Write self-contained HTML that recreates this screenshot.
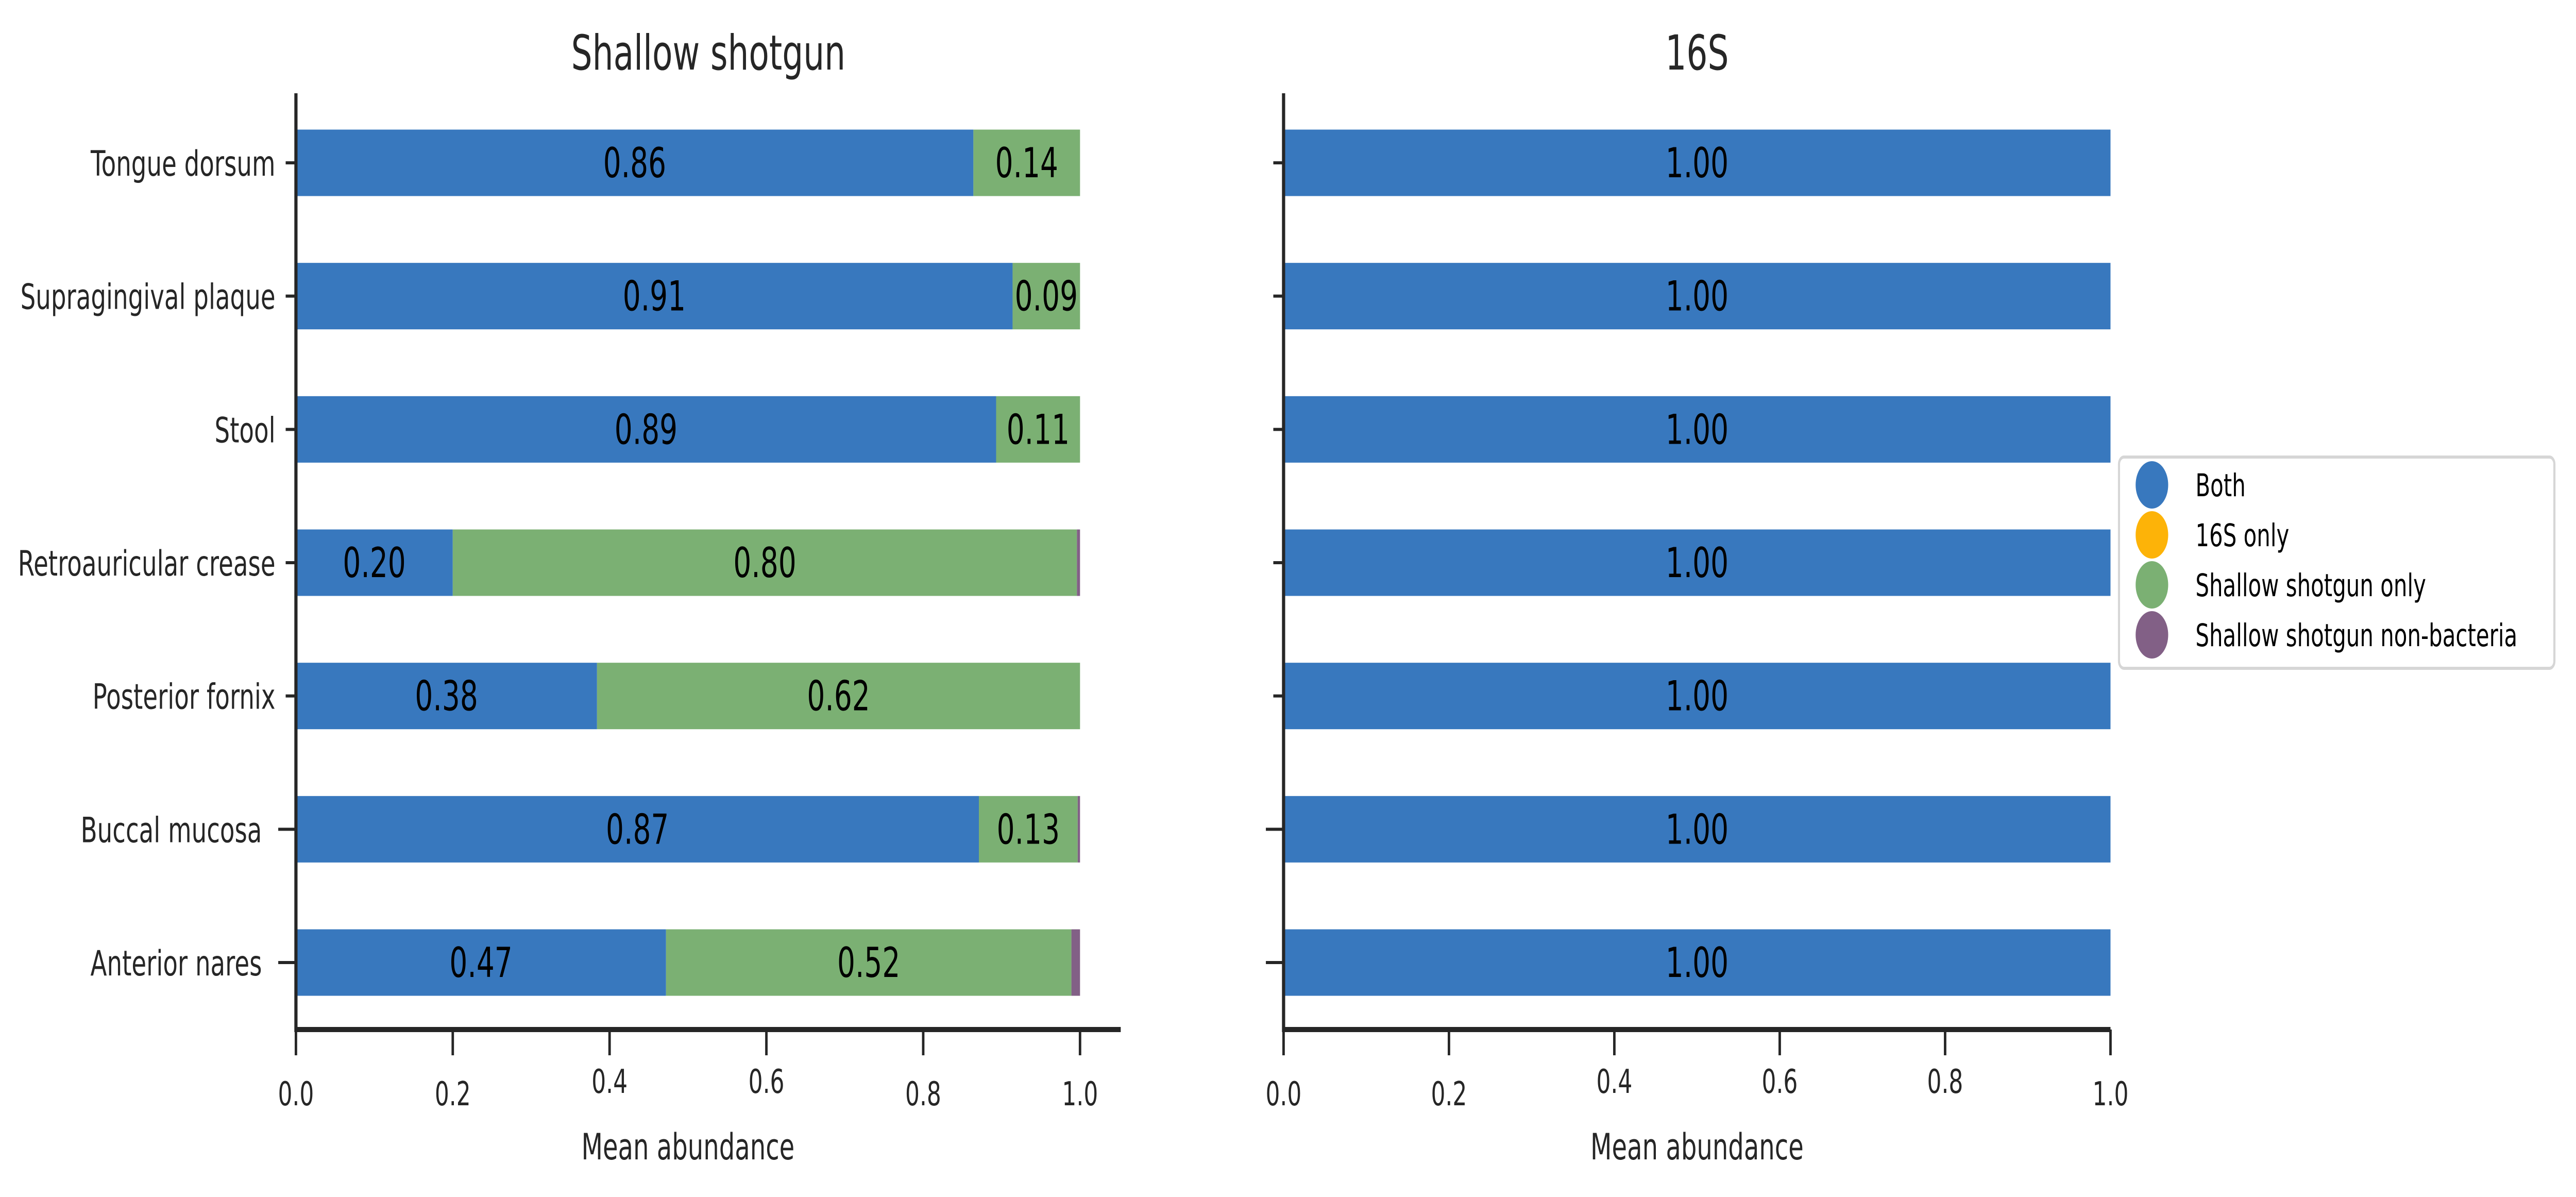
<!DOCTYPE html>
<html><head><meta charset="utf-8"><style>
html,body{margin:0;padding:0;background:#fff;width:100%;height:100%;overflow:hidden;}
svg{display:block;width:100vw;height:100vh;font-family:"DejaVu Sans","Liberation Sans",sans-serif;}
</style></head><body>
<svg id="chart" xmlns="http://www.w3.org/2000/svg" viewBox="0 0 7277 2323" preserveAspectRatio="none"></svg>
<script>
const categories = ["Tongue dorsum","Supragingival plaque","Stool","Retroauricular crease","Posterior fornix","Buccal mucosa","Anterior nares"];
const shotgunBoth = [0.864,0.914,0.893,0.200,0.384,0.871,0.472];
const shotgun16SOnly = [0,0,0,0,0,0,0];
const shotgunOnly = [0.136,0.086,0.107,0.796,0.616,0.126,0.517];
const shotgunNonBacteria = [0,0,0,0.004,0,0.003,0.011];
const s16Both = [1,1,1,1,1,1,1];
const s16Only = [0,0,0,0,0,0,0];
const xTicks = [0,0.2,0.4,0.6,0.8,1.0];
const xTickLabels = ["0.0","0.2","0.4","0.6","0.8","1.0"];
const legendLabels = ["Both","16S only","Shallow shotgun only","Shallow shotgun non-bacteria"];

const colors = ["#3878be","#fdb308","#7bb073","#826086"];
const NS = "http://www.w3.org/2000/svg";
const svg = document.getElementById("chart");
function mk(tag, attrs, parent){const e=document.createElementNS(NS,tag);for(const k in attrs)e.setAttribute(k,attrs[k]);(parent||svg).appendChild(e);return e;}
const AX = "#262626";
const rowY0 = 316, rowStep = (1868-316)/6, barH = 129;
function yPos(i){return rowY0 + i*rowStep;}
const raised = [[false,false,true,true,false,false],[false,false,true,true,true,false]];

function panel(pi, x0, unit, xEnd, title, series, showYLabels){
  const g = mk("g",{});
  
  
  const xs = v => x0 + v*unit;
  categories.forEach((c,i)=>{
    let acc = 0;
    series.forEach((arr,si)=>{
      const v = arr[i];
      if(v<=0) return;
      const r = mk("rect",{x:xs(acc),y:yPos(i)-barH/2,width:v*unit,height:barH,fill:colors[si]},g);
      
      
      if(v>=0.05){
        const t = mk("text",{x:xs(acc+v/2),y:yPos(i)+28,"text-anchor":"middle","font-size":80,fill:"#000"},g);
        
        
        t.textContent = v.toFixed(2);
      }
      acc += v;
    });
    const long = i>=5;
    const tk = mk("line",{x1:long?(x0-50):(x0-29),x2:x0,y1:yPos(i),y2:yPos(i),stroke:AX,"stroke-width":6},g);
    
    
    if(showYLabels){
      const t = mk("text",{x:long?740:778,y:yPos(i)+25,"text-anchor":"end","font-size":68,fill:AX},g);
      
      
      t.textContent = c;
    }
  });
  const sl = mk("line",{x1:x0,x2:x0,y1:181,y2:2003,stroke:AX,"stroke-width":9},g);
  
  
  const sb = mk("line",{x1:x0-4,x2:xEnd,y1:1998,y2:1998,stroke:AX,"stroke-width":10},g);
  
  
  xTicks.forEach((v,k)=>{
    const tl = mk("line",{x1:xs(v),x2:xs(v),y1:1998,y2:2048,stroke:AX,"stroke-width":7},g);
    
    
    const t = mk("text",{x:xs(v),y:raised[pi][k]?2121:2145,"text-anchor":"middle","font-size":64,fill:AX},g);
    
    
    t.textContent = xTickLabels[k];
  });
  const xl = mk("text",{x:(x0+xs(1))/2,y:2250,"text-anchor":"middle","font-size":70,fill:AX},g);
  
  
  xl.textContent = "Mean abundance";
  const tt = mk("text",{x:(x0+xEnd)/2,y:135,"text-anchor":"middle","font-size":94,fill:AX},g);
  
  
  tt.textContent = title;
}
panel(0, 836, 2215, 3166, "Shallow shotgun", [shotgunBoth,shotgun16SOnly,shotgunOnly,shotgunNonBacteria], true);
panel(1, 3626, 2336, 5962, "16S", [s16Both,s16Only], false);

const lg = mk("g",{});


const lb = mk("rect",{x:5986,y:887,width:1230,height:410,rx:14,fill:"#fff",stroke:"#d6d6d6","stroke-width":6},lg);


legendLabels.forEach((l,i)=>{
  const cy = 941 + i*97;
  const c = mk("circle",{cx:6079,cy:cy,r:46,fill:colors[i]},lg);
  
  
  const t = mk("text",{x:6202,y:cy+22,"font-size":61,fill:"#000"},lg);
  
  
  t.textContent = l;
});
</script>
</body></html>
